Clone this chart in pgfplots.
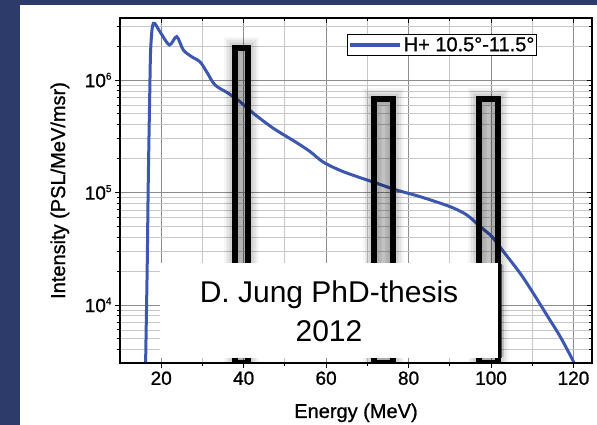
\documentclass[border=0pt]{standalone}
\usepackage{fontspec}
\setmainfont{Liberation Sans}
\newfontfamily\axfont[FakeBold=1]{Liberation Sans}
\usepackage{pgfplots}
\pgfplotsset{compat=1.18}
\definecolor{navy}{HTML}{2C3B69}
\definecolor{curve}{HTML}{3D57B0}
\pgfplotsset{
  glow/.style={forget plot, draw=black, opacity=0.035, line width=#1},
}
\begin{document}
\begin{tikzpicture}
\fill[navy] (0,0) rectangle (597bp,425bp);
\fill[white] (20bp,0) rectangle (597bp,420bp);
\begin{axis}[
  at={(120bp,62bp)}, anchor=south west,
  scale only axis, width=472bp, height=345bp,
  xmin=10, xmax=124.5,
  ymode=log, log basis y=10, ymin=3050, ymax=3.56e6,
  xtick={20,40,...,120}, minor x tick num=1,
  grid=both,
  major grid style={black!45, line width=0.8bp},
  minor grid style={black!22, line width=0.8bp},
  axis line style={line width=1.2bp},
  tick align=outside, xtick pos=left, ytick pos=left,
  major tick length=5bp, minor tick length=3bp,
  tick style={black, line width=0.9bp},
  /pgf/number format/assume math mode=true,
  ticklabel style={font=\axfont\fontsize{19bp}{19bp}\selectfont},
  yticklabel={10\raisebox{7.5bp}{\fontsize{10bp}{10bp}\selectfont\pgfmathprintnumber{\tick}}},
  xlabel={Energy (MeV)}, ylabel={Intensity (PSL/MeV/msr)},
  label style={font=\axfont\fontsize{20bp}{20bp}\selectfont},
  xlabel style={at={(axis description cs:0.5,-0.1594)}, anchor=base},
  ylabel style={at={(axis description cs:-0.1165,0.5)}, anchor=base},
  legend style={at={(axis description cs:0.4803,0.9528)}, anchor=north west,
    draw=black, line width=1bp, inner sep=1bp,
    font=\axfont\fontsize{20bp}{20bp}\selectfont,
    nodes={inner sep=1.5bp}},
  legend image code/.code={\draw[#1, line width=4bp] (0bp,0bp) -- (50bp,0bp);},
]
\addplot[curve, line width=3bp, smooth] coordinates {
(16.2,2900) (16.6,2.2e4) (16.85,1.2e5) (17.2,7e5) (17.45,1.91e6) (18.08,3.19e6)
(19.71,2.68e6) (21.97,2.05e6) (23.76,2.43e6) (25.36,1.85e6) (27.40,1.61e6)
(29.42,1.45e6) (31.04,1.18e6) (33.06,9.03e5) (36.29,7.62e5) (39.13,6.41e5)
(42.35,5.06e5) (47.21,3.72e5) (52.48,2.83e5) (56.12,2.31e5) (59.34,1.86e5)
(64.20,1.53e5) (71.09,1.25e5) (77.16,1.05e5) (82.82,9.18e4) (90.10,7.48e4)
(94.15,6.31e4) (97.38,4.97e4) (100.22,4.05e4) (103.03,2.98e4) (107.09,1.91e4)
(110.32,1.26e4) (113.57,8.1e3) (116.80,5.22e3) (120.02,3.13e3) (120.1,2900)
};
\addlegendentry{H+ 10.5°-11.5°}
% soft glow around the three boxes
\pgfplotsinvokeforeach{22bp,19bp,16bp,13bp,10bp}{
  \addplot[glow=#1] coordinates {(38.0,3050) (38.0,1.92e6) (41.0,1.92e6) (41.0,3050)} -- cycle;
  \addplot[glow=#1] coordinates {(71.7,3050) (71.7,6.73e5) (76.2,6.73e5) (76.2,3050)} -- cycle;
  \addplot[glow=#1] coordinates {(97.1,3050) (97.1,6.73e5) (101.6,6.73e5) (101.6,3050)} -- cycle;
}
% the boxes
\addplot[forget plot, draw=black, line width=6bp, fill=black, fill opacity=0.18] coordinates {(38.0,3050) (38.0,1.92e6) (41.0,1.92e6) (41.0,3050)} -- cycle;
\addplot[forget plot, draw=black, line width=6bp, fill=black, fill opacity=0.18] coordinates {(71.7,3050) (71.7,6.73e5) (76.2,6.73e5) (76.2,3050)} -- cycle;
\addplot[forget plot, draw=black, line width=6bp, fill=black, fill opacity=0.18] coordinates {(97.1,3050) (97.1,6.73e5) (101.6,6.73e5) (101.6,3050)} -- cycle;
\end{axis}
% mirrored ticks, pointing inward
\begin{axis}[
  at={(120bp,62bp)}, anchor=south west,
  scale only axis, width=472bp, height=345bp,
  xmin=10, xmax=124.5,
  ymode=log, log basis y=10, ymin=3050, ymax=3.56e6,
  xtick={20,40,...,120}, minor x tick num=1,
  axis line style={line width=1.2bp},
  tick align=inside, xtick pos=right, ytick pos=right,
  major tick length=5bp, minor tick length=3bp,
  tick style={black, line width=0.9bp},
  xticklabels={}, yticklabels={},
]
\end{axis}
% credit box
\fill[black, opacity=0.12] (498bp,68bp) rectangle (504bp,160bp);
\fill[black, opacity=0.6] (498bp,66.7bp) rectangle (501.5bp,161bp);
\fill[white] (160bp,66.7bp) rectangle (498.3bp,162.3bp);
\node[anchor=base, font=\fontsize{30bp}{36bp}\selectfont] at (329bp,122.3bp) {D. Jung PhD-thesis};
\node[anchor=base, font=\fontsize{30bp}{36bp}\selectfont] at (329bp,83.3bp) {2012};
\pgfresetboundingbox
\path (0,0) rectangle (597bp,425bp);
\end{tikzpicture}
\end{document}
